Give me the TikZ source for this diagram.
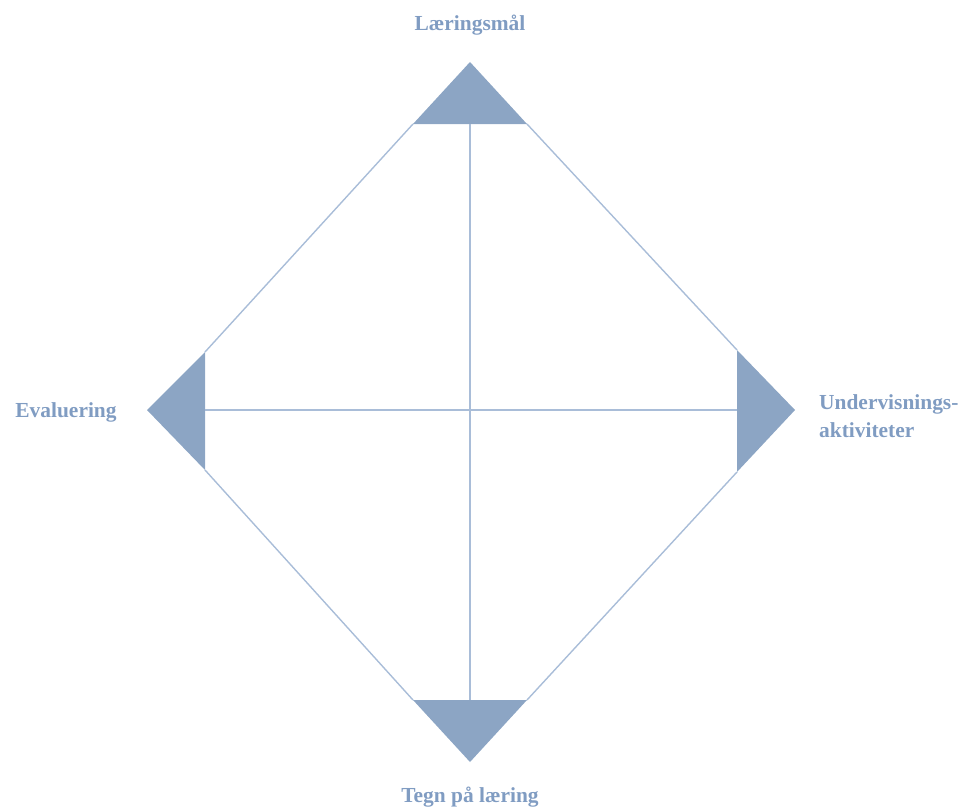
\documentclass[tikz,border=0pt]{standalone}
\usepackage{fontspec}
\setmainfont{Liberation Serif}
\begin{document}
\begin{tikzpicture}[x=1bp,y=-1bp]
\definecolor{tri}{HTML}{8CA5C4}
\definecolor{ln}{HTML}{A9BDD8}
\definecolor{txt}{HTML}{809CC2}
\tikzset{
  corner/.style={fill=tri,draw=none},
  edge/.style={draw=ln,line width=1.4bp},
  lbl/.style={text=txt,font=\fontsize{21.5}{28}\selectfont\bfseries,inner sep=0pt}
}
\useasboundingbox (0,0) rectangle (968,809);
% corner coordinates
\coordinate (T) at (470,62);
\coordinate (T1) at (413,124);
\coordinate (T2) at (527,124);
\coordinate (Tm) at (470,124);
\coordinate (L) at (147,410);
\coordinate (L1) at (205,352);
\coordinate (L2) at (205,470);
\coordinate (Lm) at (205,410);
\coordinate (R) at (795,410);
\coordinate (R1) at (737,350);
\coordinate (R2) at (737,472);
\coordinate (Rm) at (737,410);
\coordinate (B) at (470,762);
\coordinate (B1) at (413,700);
\coordinate (B2) at (527,700);
\coordinate (Bm) at (470,700);
% triangles
\fill[corner] (T) -- (T1) -- (T2) -- cycle;
\fill[corner] (L) -- (L1) -- (L2) -- cycle;
\fill[corner] (R) -- (R1) -- (R2) -- cycle;
\fill[corner] (B) -- (B1) -- (B2) -- cycle;
% edges
\draw[edge] (T1) -- (L1);
\draw[edge] (T2) -- (R1);
\draw[edge] (L2) -- (B1);
\draw[edge] (R2) -- (B2);
\draw[edge] (Tm) -- (Bm);
\draw[edge] (Lm) -- (Rm);
% labels
\node[lbl] (lt) at (470,25) {Læringsmål};
\node[lbl] (ll) at (66,412) {Evaluering};
\node[lbl,anchor=west,align=left] (lr) at (819,416) {Undervisnings-\\aktiviteter};
\node[lbl] (lb) at (470,797) {Tegn på læring};
\end{tikzpicture}
\end{document}
